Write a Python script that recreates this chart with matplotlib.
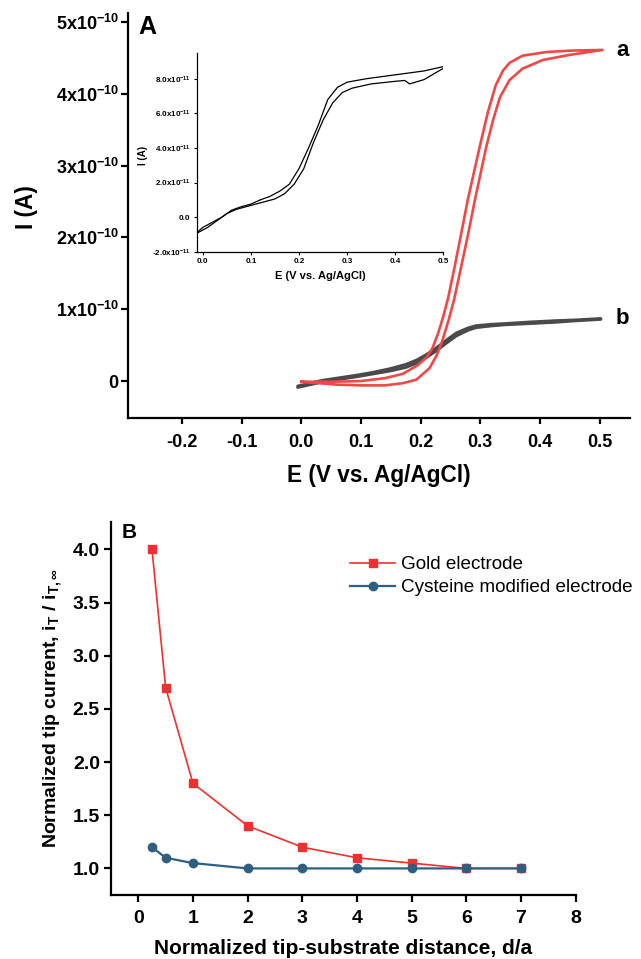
import matplotlib
matplotlib.use('Agg')
import matplotlib.pyplot as plt

plt.rcParams['font.family'] = ['Liberation Sans', 'DejaVu Sans']
plt.rcParams['mathtext.fontset'] = 'custom'
plt.rcParams['mathtext.rm'] = 'Liberation Sans'
plt.rcParams['mathtext.it'] = 'Liberation Sans:italic'
plt.rcParams['mathtext.bf'] = 'Liberation Sans:bold'
plt.rcParams['axes.unicode_minus'] = False

# %% data - panel A (current in units of 1e-10 A)
red_fwd_E = [0.0, 0.03, 0.06, 0.10, 0.14, 0.17, 0.193, 0.215, 0.227, 0.236, 0.247, 0.256, 0.268,
             0.279, 0.291, 0.310, 0.322, 0.333, 0.349, 0.371, 0.405, 0.449, 0.505]
red_fwd_I = [-0.01, -0.03, -0.05, -0.06, -0.06, -0.03, 0.02, 0.18, 0.36, 0.55, 0.85, 1.13, 1.59,
             2.02, 2.52, 3.26, 3.65, 3.95, 4.19, 4.35, 4.47, 4.54, 4.61]
red_rev_E = [0.0, 0.05, 0.10, 0.14, 0.17, 0.195, 0.21, 0.22, 0.23, 0.238, 0.246, 0.257, 0.268,
             0.279, 0.299, 0.313, 0.326, 0.338, 0.349, 0.371, 0.41, 0.45, 0.505]
red_rev_I = [-0.01, -0.01, 0.0, 0.04, 0.10, 0.22, 0.33, 0.46, 0.68, 0.90, 1.15, 1.59, 2.05,
             2.52, 3.26, 3.75, 4.12, 4.32, 4.43, 4.53, 4.58, 4.60, 4.61]

gray_E = [-0.006, 0.02, 0.036, 0.06, 0.092, 0.12, 0.148, 0.175, 0.193, 0.21, 0.226, 0.245, 0.26,
          0.28, 0.293, 0.32, 0.343, 0.38, 0.427, 0.46, 0.502]
gray_fwd_I = [-0.088, -0.04, -0.01, 0.02, 0.06, 0.10, 0.14, 0.19, 0.25, 0.33, 0.42, 0.54, 0.63,
              0.71, 0.745, 0.77, 0.785, 0.80, 0.82, 0.84, 0.86]
gray_rev_I = [-0.07, -0.02, 0.01, 0.04, 0.08, 0.12, 0.17, 0.23, 0.29, 0.37, 0.46, 0.58, 0.67,
              0.74, 0.77, 0.79, 0.80, 0.82, 0.84, 0.85, 0.87]

a_xticks = [-0.2, -0.1, 0.0, 0.1, 0.2, 0.3, 0.4, 0.5]
a_xlabels = ['-0.2', '-0.1', '0.0', '0.1', '0.2', '0.3', '0.4', '0.5']
a_yticks = [0, 1, 2, 3, 4, 5]
a_ylabels = ['0'] + [r'%dx10$^{\mathbf{-10}}$' % k for k in range(1, 6)]

# %% data - inset (current in units of 1e-11 A)
ins_up_E = [-0.01, 0.0, 0.02, 0.04, 0.06, 0.08, 0.10, 0.12, 0.14, 0.16, 0.18, 0.20, 0.22, 0.24,
            0.26, 0.28, 0.30, 0.34, 0.38, 0.42, 0.46, 0.50]
ins_up_I = [-0.85, -0.6, -0.3, 0.0, 0.4, 0.6, 0.75, 1.0, 1.2, 1.5, 1.9, 2.8, 4.0, 5.3,
            6.8, 7.5, 7.8, 8.0, 8.15, 8.3, 8.45, 8.7]
ins_low_E = [-0.01, 0.01, 0.03, 0.05, 0.07, 0.09, 0.11, 0.13, 0.15, 0.17, 0.19, 0.21, 0.23, 0.25,
             0.27, 0.29, 0.31, 0.35, 0.40, 0.42, 0.43, 0.46, 0.50]
ins_low_I = [-0.9, -0.6, -0.2, 0.2, 0.45, 0.6, 0.75, 0.9, 1.05, 1.35, 1.9, 2.8, 4.3, 5.6,
             6.6, 7.2, 7.45, 7.7, 7.85, 7.9, 7.7, 7.95, 8.6]
ins_xticks = [0.0, 0.1, 0.2, 0.3, 0.4, 0.5]
ins_yticks = [-2, 0, 2, 4, 6, 8]
ins_ylabels = [r'-2.0x10$^{\mathbf{-11}}$', '0.0', r'2.0x10$^{\mathbf{-11}}$',
               r'4.0x10$^{\mathbf{-11}}$', r'6.0x10$^{\mathbf{-11}}$', r'8.0x10$^{\mathbf{-11}}$']

# %% data - panel B
dist = [0.25, 0.5, 1, 2, 3, 4, 5, 6, 7]
gold = [4.0, 2.7, 1.8, 1.4, 1.2, 1.1, 1.05, 1.0, 1.0]
cys = [1.2, 1.1, 1.05, 1.0, 1.0, 1.0, 1.0, 1.0, 1.0]

W, H = 641, 959
fig = plt.figure(figsize=(W / 100, H / 100), dpi=100)


def px_axes(l, t, r, b):
    return fig.add_axes([l / W, 1 - b / H, (r - l) / W, (b - t) / H])


def style(ax, lw):
    for s in ['top', 'right']:
        ax.spines[s].set_visible(False)
    for s in ['left', 'bottom']:
        ax.spines[s].set_linewidth(lw)


# %% panel A
ax = px_axes(127.7, 13.3, 630, 417.7)
style(ax, 1.6)
ax.plot(gray_E, gray_fwd_I, color='#4a4a4a', lw=2.2, solid_capstyle='round')
ax.plot(gray_E, gray_rev_I, color='#4a4a4a', lw=2.2, solid_capstyle='round')
ax.plot(red_fwd_E + red_rev_E[::-1], red_fwd_I + red_rev_I[::-1], color='#f04848', lw=1.9)
ax.set_xlim(-0.291, 0.551)
ax.set_ylim(-0.51, 5.12)
ax.set_xticks(a_xticks)
ax.set_xticklabels(a_xlabels)
ax.set_yticks(a_yticks)
ax.set_yticklabels(a_ylabels)
ax.tick_params(axis='x', length=4, width=1.6, pad=8, labelsize=13)
ax.tick_params(axis='y', length=5, width=1.6, pad=1.5, labelsize=13)
for t in ax.get_xticklabels() + ax.get_yticklabels():
    t.set_fontweight('bold')
ax.set_xlabel('E (V vs. Ag/AgCl)', fontsize=16.3, fontweight='bold')
ax.xaxis.label.set_va('center')
ax.xaxis.set_label_coords(0.5, (417.7 - 475) / 404.4)
ax.set_ylabel('I (A)', fontsize=16.3, fontweight='bold')
ax.yaxis.label.set_va('center')
ax.yaxis.set_label_coords((26 - 127.7) / 502.3, (417.7 - 207) / 404.4)
fig.text(138 / W, 1 - 27 / H, 'A', fontsize=18, fontweight='bold', va='center')
fig.text(616 / W, 1 - 50 / H, 'a', fontsize=16, fontweight='bold', va='center')
fig.text(616 / W, 1 - 319 / H, 'b', fontsize=16, fontweight='bold', va='center')

# %% inset
ins = px_axes(196.7, 53.3, 443.3, 251.7)
style(ins, 0.9)
ins.patch.set_alpha(0)
ins.plot(ins_up_E, ins_up_I, color='black', lw=0.9)
ins.plot(ins_low_E, ins_low_I, color='black', lw=0.9)
ins.set_xlim(-0.0125, 0.5)
ins.set_ylim(-2.0, 9.47)
ins.set_xticks(ins_xticks)
ins.set_xticklabels(['%.1f' % v for v in ins_xticks])
ins.set_yticks(ins_yticks)
ins.set_yticklabels(ins_ylabels)
ins.tick_params(length=2.5, width=0.8, pad=2, labelsize=5.8)
for t in ins.get_xticklabels() + ins.get_yticklabels():
    t.set_fontweight('bold')
ins.set_xlabel('E (V vs. Ag/AgCl)', fontsize=8, fontweight='bold', labelpad=4)
ins.set_ylabel('I (A)', fontsize=7, fontweight='bold')
ins.yaxis.label.set_va('center')
ins.yaxis.set_label_coords((143 - 196.7) / 246.6, (251.7 - 155) / 198.4)

# %% panel B
bx = px_axes(111, 521.7, 575.5, 895)
style(bx, 1.6)
bx.plot(dist, gold, color='#ee3030', lw=1.2, marker='s', ms=6, label='Gold electrode')
bx.plot(dist, cys, color='#2f5f80', lw=1.6, marker='o', ms=6, label='Cysteine modified electrode')
bx.set_xlim(-0.5, 8.0)
bx.set_ylim(0.75, 4.26)
bx.set_xticks(range(0, 9))
bx.set_yticks([1.0, 1.5, 2.0, 2.5, 3.0, 3.5, 4.0])
bx.set_yticklabels(['1.0', '1.5', '2.0', '2.5', '3.0', '3.5', '4.0'])
bx.tick_params(axis='x', length=5, width=1.6, pad=6, labelsize=14)
bx.tick_params(axis='y', length=5, width=1.6, pad=3, labelsize=14)
for t in bx.get_xticklabels() + bx.get_yticklabels():
    t.set_fontweight('bold')
bx.set_xlabel('Normalized tip-substrate distance, d/a', fontsize=15, fontweight='bold')
bx.xaxis.label.set_va('center')
bx.xaxis.set_label_coords(0.5, (895 - 949) / 373.3)
bx.set_ylabel(r'Normalized tip current, i$_{\mathbf{T}}$ / i$_{\mathbf{T,\infty}}$',
              fontsize=14, fontweight='bold')
bx.yaxis.label.set_va('center')
bx.yaxis.set_label_coords((53 - 111) / 464.5, 0.5)
bx.legend(loc='center left', bbox_to_anchor=(350 / W, 1 - 576.2 / H),
          bbox_transform=fig.transFigure, frameon=False, fontsize=13.6,
          handlelength=2.4, handletextpad=0.3, labelspacing=0.3,
          borderpad=0, borderaxespad=0)
fig.text(122 / W, 1 - 533 / H, 'B', fontsize=15, fontweight='bold', va='center')

fig.savefig('out.png', dpi=100)
